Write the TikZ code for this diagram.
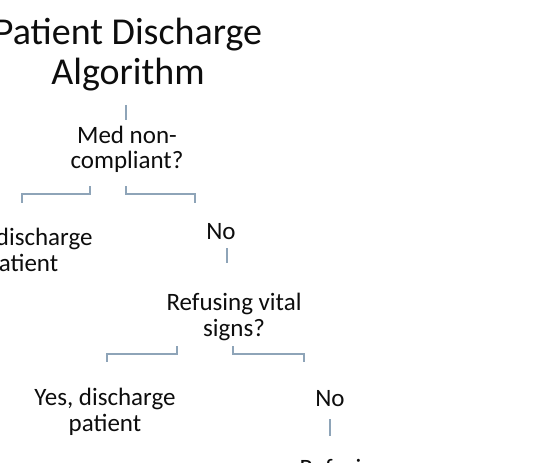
\documentclass[tikz,border=0pt]{standalone}
\usepackage{fontspec}
\setmainfont{Carlito}
\usetikzlibrary{positioning}
\definecolor{dcline}{HTML}{8EA4B8}
\definecolor{dctext}{HTML}{0D0D0D}
\tikzset{
  ttlbox/.style={align=center,inner sep=0pt,text=dctext,anchor=base,font=\fontsize{38}{40}\selectfont},
  choice/.style={align=center,inner sep=0pt,text=dctext,anchor=base,font=\fontsize{25}{25.5}\selectfont},
  link/.style={draw=dcline,line width=1.6pt},
}
\begin{document}
\begin{tikzpicture}[x=1pt,y=-1pt]
  \useasboundingbox (0,0) rectangle (534,462);
  \clip (0,0) rectangle (534,462);
  % texts (base = last line)
  \node[ttlbox] (ttl) at (128,85) {Patient Discharge\\Algorithm};
  \node[choice] (med) at (127,169) {Med non-\\compliant?};
  \node[choice] (yes1) at (22,271) {Yes, discharge\\patient};
  \node[choice] (no1) at (221,239) {No};
  \node[choice] (vital) at (234,336) {Refusing vital\\signs?};
  \node[choice] (yes2) at (105,431) {Yes, discharge\\patient};
  \node[choice] (no2) at (330,406) {No};
  \node[choice] (next) at (343,476) {Refusing};
  % connector ends
  \coordinate (ttl-b) at (126,105); \coordinate (med-t) at (126,120);
  \coordinate (med-l) at (90,186);  \coordinate (yes1-t) at (22,203);
  \coordinate (med-r) at (126,186); \coordinate (no1-t) at (195,203);
  \coordinate (no1-b) at (227,248); \coordinate (vital-t) at (227,263);
  \coordinate (vital-l) at (177,346); \coordinate (yes2-t) at (107,362);
  \coordinate (vital-r) at (233,346); \coordinate (no2-t) at (304,362);
  \coordinate (no2-b) at (330,419); \coordinate (next-t) at (330,436);
  % connectors
  \draw[link] (ttl-b) -- (med-t);
  \draw[link] (med-l) -- ++(0,8) -| (yes1-t);
  \draw[link] (med-r) -- ++(0,8) -| (no1-t);
  \draw[link] (no1-b) -- (vital-t);
  \draw[link] (vital-l) -- ++(0,8) -| (yes2-t);
  \draw[link] (vital-r) -- ++(0,8) -| (no2-t);
  \draw[link] (no2-b) -- (next-t);
\end{tikzpicture}
\end{document}
